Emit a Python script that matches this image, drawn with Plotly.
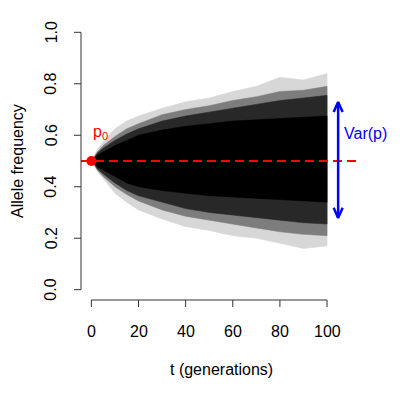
import plotly.graph_objects as go

# generations at which the spread of the simulated trajectories was read off the picture
t_gen = [0, 1, 2.5, 5, 10, 15, 20, 30, 40, 50, 60, 70, 80, 90, 100]

# envelopes of the bundle of allele-frequency trajectories (upper / lower), outer to inner
outer_top = [0.5, 0.52, 0.545, 0.575, 0.625, 0.655, 0.675, 0.705, 0.73, 0.745, 0.77, 0.79, 0.825, 0.815, 0.84]
outer_bot = [0.5, 0.485, 0.46, 0.43, 0.375, 0.34, 0.31, 0.275, 0.245, 0.23, 0.21, 0.2, 0.18, 0.16, 0.17]
mid_top = [0.5, 0.512, 0.535, 0.56, 0.595, 0.625, 0.645, 0.68, 0.70, 0.715, 0.735, 0.75, 0.77, 0.775, 0.79]
mid_bot = [0.5, 0.49, 0.465, 0.44, 0.40, 0.37, 0.345, 0.31, 0.285, 0.27, 0.255, 0.24, 0.225, 0.215, 0.21]
dark_top = [0.5, 0.51, 0.53, 0.55, 0.58, 0.605, 0.625, 0.655, 0.675, 0.69, 0.705, 0.72, 0.735, 0.745, 0.755]
dark_bot = [0.5, 0.49, 0.47, 0.45, 0.415, 0.385, 0.365, 0.34, 0.315, 0.30, 0.29, 0.28, 0.27, 0.26, 0.255]
core_top = [0.5, 0.507, 0.522, 0.535, 0.56, 0.58, 0.60, 0.62, 0.635, 0.645, 0.655, 0.66, 0.665, 0.67, 0.675]
core_bot = [0.5, 0.493, 0.478, 0.465, 0.44, 0.415, 0.40, 0.385, 0.375, 0.365, 0.36, 0.355, 0.35, 0.345, 0.34]

p0 = 0.5
var_arrow_t = 104.7
var_arrow_y = [0.279, 0.729]

x_ticks = [0, 20, 40, 60, 80, 100]
y_ticks = [0.0, 0.2, 0.4, 0.6, 0.8, 1.0]
y_tick_labels = ["0.0", "0.2", "0.4", "0.6", "0.8", "1.0"]

XR = [-4.4, 114.4]
YR = [-0.04, 1.04]
FONT = "Liberation Sans, Arial, sans-serif"

fig = go.Figure()

bands = [
    (outer_top, outer_bot, "rgb(215,215,215)"),
    (mid_top, mid_bot, "rgb(125,125,125)"),
    (dark_top, dark_bot, "rgb(40,40,40)"),
    (core_top, core_bot, "rgb(0,0,0)"),
]
for top, bot, col in bands:
    fig.add_trace(go.Scatter(
        x=t_gen + t_gen[::-1], y=top + bot[::-1],
        fill="toself", fillcolor=col, mode="lines",
        line=dict(width=0.5, color=col), hoverinfo="skip", showlegend=False))

# p0 dashed line and point
fig.add_trace(go.Scatter(x=XR, y=[p0, p0], mode="lines",
                         line=dict(color="#ff0000", width=2, dash="9px,5px"),
                         showlegend=False, hoverinfo="skip"))
fig.add_trace(go.Scatter(x=[0], y=[p0], mode="markers",
                         marker=dict(color="#ff0000", size=10),
                         showlegend=False, hoverinfo="skip"))

# Var(p) double arrow
ht = 1.9  # half-width of the head in t units
hy = 0.039
lo, hi = var_arrow_y
fig.add_trace(go.Scatter(
    x=[var_arrow_t, var_arrow_t, None,
       var_arrow_t - ht, var_arrow_t, var_arrow_t + ht, None,
       var_arrow_t - ht, var_arrow_t, var_arrow_t + ht],
    y=[lo, hi, None, hi - hy, hi, hi - hy, None, lo + hy, lo, lo + hy],
    mode="lines", line=dict(color="#0000ff", width=2.5),
    showlegend=False, hoverinfo="skip"))

shapes = []
axis_col = "#333333"
# y axis
shapes.append(dict(type="line", xref="paper", yref="y", x0=0, x1=0, y0=y_ticks[0], y1=y_ticks[-1],
                   line=dict(color=axis_col, width=1)))
for yv in y_ticks:
    shapes.append(dict(type="line", xref="paper", yref="y", x0=0, x1=-7/280.4, y0=yv, y1=yv,
                       line=dict(color=axis_col, width=1)))
# x axis
shapes.append(dict(type="line", xref="x", yref="paper", x0=x_ticks[0], x1=x_ticks[-1], y0=0, y1=0,
                   line=dict(color=axis_col, width=1)))
for xv in x_ticks:
    shapes.append(dict(type="line", xref="x", yref="paper", x0=xv, x1=xv, y0=0, y1=-7/278,
                       line=dict(color=axis_col, width=1)))

ann = []
for yv, lab in zip(y_ticks, y_tick_labels):
    ann.append(dict(x=0, xref="paper", y=yv, yref="y", text=lab, showarrow=False,
                    textangle=-90, xanchor="center", yanchor="middle", xshift=-30,
                    font=dict(family=FONT, size=16, color="black")))
for xv in x_ticks:
    ann.append(dict(x=xv, xref="x", y=0, yref="paper", text=str(xv), showarrow=False,
                    xanchor="center", yanchor="middle", yshift=-31,
                    font=dict(family=FONT, size=16, color="black")))
ann.append(dict(x=0.5, xref="paper", y=0, yref="paper", text="t (generations)", showarrow=False,
                xanchor="center", yanchor="middle", yshift=-69,
                font=dict(family=FONT, size=16, color="black")))
ann.append(dict(x=0, xref="paper", y=0.5, yref="paper", text="Allele frequency", showarrow=False,
                textangle=-90, xanchor="center", yanchor="middle", xshift=-64,
                font=dict(family=FONT, size=16, color="black")))
ann.append(dict(x=3.8, xref="x", y=0.612, yref="y", text="p<sub>0</sub>", showarrow=False,
                xanchor="center", yanchor="middle",
                font=dict(family=FONT, size=16, color="#ff0000")))
ann.append(dict(x=106.4, xref="x", y=0.605, yref="y", text="Var(p)", showarrow=False,
                xanchor="left", yanchor="middle",
                font=dict(family=FONT, size=16, color="#0000ff")))

# the page adds an 8px body margin, so the figure is offset by it
fig.update_layout(
    width=400, height=400,
    margin=dict(l=73, r=47, t=14, b=108),
    plot_bgcolor="white", paper_bgcolor="white",
    xaxis=dict(range=XR, visible=False, fixedrange=True),
    yaxis=dict(range=YR, visible=False, fixedrange=True),
    shapes=shapes, annotations=ann, showlegend=False,
)

fig.write_html("out.html")
